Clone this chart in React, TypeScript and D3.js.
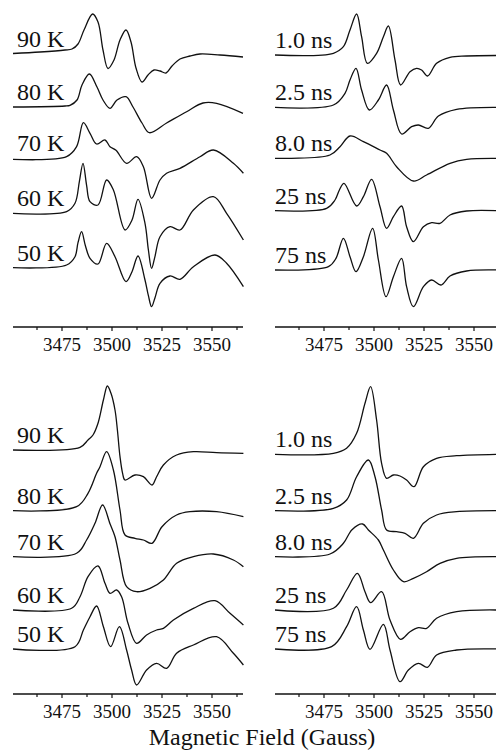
import React from "react";
import { scaleLinear, line, curveCatmullRom } from "d3";

type Pt = [number, number];

// labels
const tempLabels = ["90 K", "80 K", "70 K", "60 K", "50 K"];
const timeLabels = ["1.0 ns", "2.5 ns", "8.0 ns", "25 ns", "75 ns"];
const majorTicks = [3475, 3500, 3525, 3550];
const minorTicks = [3462.5, 3487.5, 3512.5, 3537.5, 3562.5];
const fieldDomain = [3450, 3565];
const axisSpan = [3450.5, 3565.5];

// stacking offsets (a.u. above the axis)
const topTempOffsets = [273.5, 220, 168.7, 113.7, 59.3];
const topTimeOffsets = [272, 219.7, 168.7, 116.3, 57];
const botTempOffsets = [244, 183.3, 137.3, 84, 45];
const botTimeOffsets = [239.7, 183.3, 137.3, 84, 45];

// top left: temperature series, [field G, signal a.u.]
const topT90: Pt[] = [[3450.5,0],[3464,1.5],[3476.5,3.5],[3480,4.5],[3483,9.5],[3486,23.5],[3490.3,39.5],[3493,31.5],[3495.5,3.5],[3498,-15],[3501,-6.5],[3504,13.5],[3507,23.5],[3509.5,11.5],[3512,-14.5],[3515,-28.5],[3518,-21.5],[3521,-16.5],[3524,-17.5],[3527,-19.5],[3530,-12.5],[3534,-5.5],[3539,-2.5],[3544,-0.5],[3554,-1.5],[3565.5,-3.5]];
const topT80: Pt[] = [[3450.5,0],[3476.5,1],[3479,1.7],[3482.5,7],[3485,22],[3488.7,33],[3492.5,20],[3495.5,7],[3499,-1.3],[3502.5,7],[3507,10.3],[3510.5,0],[3515,-16],[3518.7,-25.7],[3527.3,-16],[3537.3,-4.7],[3545.5,4],[3552.3,3.7],[3565.5,-6.3]];
const topT70: Pt[] = [[3450.5,-1],[3477.3,1.6],[3482.3,11.6],[3485.7,35.6],[3489,25],[3492.3,14.3],[3496.5,18.3],[3499,11.6],[3502,8],[3507.3,-5],[3512.3,1.6],[3515.7,-8.4],[3519.8,-40],[3524,-21.7],[3527.3,-15],[3534,-10],[3544,1.6],[3550.7,8.3],[3560.7,-5],[3565.7,-15]];
const topT60: Pt[] = [[3450.5,0],[3477.3,1.6],[3481.5,10],[3483.7,32],[3485.5,50],[3487.3,28],[3489,11.6],[3493,8.3],[3497.3,33.3],[3500.7,23.3],[3506.5,-16.7],[3510,-6.7],[3513,14],[3516.5,-10],[3518.2,-36.7],[3519.8,-55],[3521.5,-43],[3524,-23.4],[3529,-13.4],[3534,-16.7],[3540.7,3.3],[3550.7,16.6],[3557.3,0],[3565.7,-26.7]];
const topT50: Pt[] = [[3450.5,0],[3477.3,2.7],[3481.5,11],[3483,25],[3484.8,36],[3486.7,22],[3489,9.4],[3493,3.7],[3497.3,24.4],[3501.5,11],[3507,-14],[3510,-4],[3513,11.7],[3516.5,-12.3],[3518.2,-28],[3519.8,-39],[3521.5,-30],[3524,-15.6],[3529,-8.3],[3534,-11.6],[3540.7,1],[3551.5,12.7],[3557.3,4.4],[3565.7,-19]];

// top right: delay series
const topD10: Pt[] = [[3450.5,0],[3479.7,1.7],[3484.7,8.3],[3488,25],[3491.3,41],[3493.8,18.3],[3496.7,-8.3],[3501.3,1.7],[3504.7,18.3],[3507.2,29],[3510.5,-5],[3513.3,-30],[3518,-16.7],[3521.3,-13.3],[3523.8,-15],[3526.8,-21],[3531.3,-8.3],[3538,-2.3],[3546.3,-1],[3562,-0.5]];
const topD25: Pt[] = [[3450.5,0],[3479.7,2.3],[3485.5,14],[3488,27.3],[3491,39],[3493.8,17.3],[3497.7,-2.7],[3502.2,7.3],[3506.3,22.3],[3509.7,-2.7],[3513.8,-26.7],[3518.8,-19.4],[3522.2,-17.7],[3527.2,-21],[3532.2,-8.7],[3541.3,-2],[3562,0]];
const topD80: Pt[] = [[3450.5,0],[3478,3.3],[3483,11.6],[3488,22.3],[3494.7,16.6],[3503,8.3],[3506.3,5],[3511.3,-8.4],[3519.7,-22.7],[3526.3,-16.7],[3538,-5],[3546.3,-1],[3562,0]];
const topD250: Pt[] = [[3450.5,0],[3476.3,2.4],[3480.5,10.7],[3482.7,20.7],[3485,27.4],[3491.3,4.7],[3494.7,14],[3498.8,31.4],[3503,4],[3506.3,-17.6],[3509.7,-6],[3513.8,4.7],[3516.3,-16],[3519.7,-31],[3524.7,-16],[3528.8,-12],[3533,-12.6],[3538,-4.3],[3546.3,-0.3],[3562,0]];
const topD750: Pt[] = [[3450.5,0],[3477.2,3.3],[3481,11.7],[3484.7,31.7],[3488,13.3],[3491,-1.7],[3494.7,13.3],[3499.3,41.7],[3502.2,10],[3506,-26.7],[3509.7,-6.7],[3513.8,11.7],[3516.3,-16.7],[3519.7,-36.7],[3524.7,-16.7],[3528.8,-10],[3533.5,-15],[3538,-6],[3546.3,-1],[3562,0]];

// bottom left: temperature series
const botT90: Pt[] = [[3450.5,0],[3484,2.7],[3488,10],[3490.5,15],[3493,26.7],[3495.7,50],[3497.7,64],[3499.5,56.7],[3501.5,40],[3502.7,20],[3504,-6.7],[3505.3,-23.3],[3506.5,-30],[3511.5,-25],[3515.7,-26.7],[3520,-35],[3522.3,-26.7],[3525.7,-15],[3532.3,-5],[3540.7,-1.7],[3552.3,-2.7],[3565.7,-3.3]];
const botT80: Pt[] = [[3450.5,0],[3482.3,4],[3488,17.4],[3492.3,37.4],[3494,44],[3497.3,59],[3500.7,40.7],[3504,0.7],[3506.5,-24.3],[3511.5,-27.6],[3515.7,-29.3],[3520,-32.6],[3525,-16],[3532.3,-4.3],[3539,-1],[3552.3,-1],[3565.7,-6]];
const botT70: Pt[] = [[3450.5,0],[3482.3,3.4],[3487.3,16.7],[3491.5,33.4],[3495.3,51.7],[3499,33],[3501.5,20],[3504,-3.3],[3507.3,-30],[3512.3,-35],[3519,-31.6],[3525.7,-23.3],[3532.3,-6.6],[3540.7,0],[3550.7,2.7],[3560.7,-3.3],[3565.7,-10]];
const botT60: Pt[] = [[3450.5,0],[3479.8,1.7],[3484,13.3],[3488,33.3],[3493,44],[3496.5,26.7],[3499,16.7],[3502.3,20],[3504.8,13.3],[3508,-13.3],[3512.3,-33.3],[3517.3,-25],[3522.3,-20],[3525.7,-18.3],[3530.7,-10],[3540.7,1.7],[3551.5,9.3],[3559,-3.3],[3565.7,-15]];
const botT50: Pt[] = [[3450.5,0],[3481.5,2.3],[3485.7,19],[3489,32.3],[3492.3,43],[3495.7,22.3],[3499.3,2.3],[3503.7,22.3],[3507.3,-1],[3509.8,-21],[3512.3,-36],[3517.3,-21],[3522.3,-14.3],[3527.3,-19.3],[3532.3,-4.3],[3540.7,4],[3552.3,12.3],[3560.7,-4.3],[3565.7,-16]];

// bottom right: delay series
const botD10: Pt[] = [[3450.5,0],[3479.7,1],[3486.3,6],[3491.3,21],[3495.5,51],[3498.3,67.6],[3501.3,34.3],[3503.8,-9],[3506.3,-24],[3509.7,-20.7],[3513,-21.7],[3516.3,-25.7],[3520,-32.4],[3524.7,-12.4],[3531.3,-4],[3541.3,-1.4],[3562,0]];
const botD25: Pt[] = [[3450.5,0],[3479.7,2.4],[3486.3,10.7],[3491.3,34],[3497.2,50.7],[3500.5,34],[3503.8,0.7],[3506.3,-19.3],[3511.3,-21],[3515.5,-22.6],[3519.7,-27.6],[3524.7,-12.6],[3531.3,-4.3],[3541.3,-1],[3562,0]];
const botD80: Pt[] = [[3450.5,0],[3478,2.7],[3484.7,13.4],[3489,27],[3494.3,32.7],[3497.2,26.7],[3502.2,16.7],[3504.7,6.7],[3509.7,-13.3],[3514.7,-25],[3519.7,-21.6],[3526.3,-15],[3533,-6.6],[3541.3,-1.6],[3562,0]];
const botD250: Pt[] = [[3450.5,0],[3479.7,1.7],[3486.3,20],[3491.7,36.7],[3495.5,18.3],[3498.3,7.3],[3503.8,18.3],[3508,-10],[3513.3,-29.3],[3518,-21.7],[3522.2,-17.7],[3526.3,-18.3],[3531.3,-8.3],[3541.3,-1.7],[3562,0]];
const botD750: Pt[] = [[3450.5,0],[3478.8,2.3],[3486.3,22.3],[3491.3,42.3],[3494.7,19],[3498,-0.3],[3504.7,24.7],[3508,-1],[3513,-32.7],[3517.2,-21],[3522.2,-14.3],[3526.7,-18.3],[3531.3,-6],[3541.3,-1],[3562,0]];

const font = "Liberation Serif";

type PanelProps = {
  left: number;
  axisY: number;
  labelX: number;
  labels: string[];
  offsets: number[];
  traces: Pt[][];
};

function Panel({ left, axisY, labelX, labels, offsets, traces }: PanelProps) {
  const x = scaleLinear().domain(fieldDomain).range([left, left + 230]);
  const y = scaleLinear().domain([0, 320]).range([axisY, axisY - 320]);

  return (
    <g>
      {traces.map((tr, i) => {
        const path = line<Pt>()
          .x(d => x(d[0]))
          .y(d => y(d[1] + offsets[i]))
          .curve(curveCatmullRom.alpha(0.5));
        return (
          <g key={i}>
            <text x={labelX} y={y(offsets[i] + 7)} fontSize={24} fill="#111">
              {labels[i]}
            </text>
            <path d={path(tr) ?? ""} fill="none" stroke="#111" strokeWidth={1.3} strokeLinejoin="round" />
          </g>
        );
      })}
      <line x1={x(axisSpan[0])} x2={x(axisSpan[1])} y1={axisY} y2={axisY} stroke="#111" strokeWidth={1.3} />
      {majorTicks.map(t => (
        <g key={t}>
          <line x1={x(t)} x2={x(t)} y1={axisY} y2={axisY + 4} stroke="#111" strokeWidth={1.2} />
          <text x={x(t)} y={axisY + 24} fontSize={19} textAnchor="middle" fill="#111">
            {t}
          </text>
        </g>
      ))}
      {minorTicks.map(t => (
        <line key={t} x1={x(t)} x2={x(t)} y1={axisY} y2={axisY + 3} stroke="#111" strokeWidth={1.2} />
      ))}
    </g>
  );
}

export default function App() {
  const width = 496;
  const height = 751;

  return (
    <svg width={width} height={height} fontFamily={font}
      style={{ position: "absolute", left: 0, top: 0, background: "#fff", fontFamily: font }}>
      <Panel left={12} axisY={327} labelX={17} labels={tempLabels} offsets={topTempOffsets}
        traces={[topT90, topT80, topT70, topT60, topT50]} />
      <Panel left={274} axisY={327} labelX={275} labels={timeLabels} offsets={topTimeOffsets}
        traces={[topD10, topD25, topD80, topD250, topD750]} />
      <Panel left={12} axisY={694} labelX={17} labels={tempLabels} offsets={botTempOffsets}
        traces={[botT90, botT80, botT70, botT60, botT50]} />
      <Panel left={274} axisY={694} labelX={275} labels={timeLabels} offsets={botTimeOffsets}
        traces={[botD10, botD25, botD80, botD250, botD750]} />
      <text x={262} y={745} fontSize={24} textAnchor="middle" fill="#111">
        Magnetic Field (Gauss)
      </text>
    </svg>
  );
}
